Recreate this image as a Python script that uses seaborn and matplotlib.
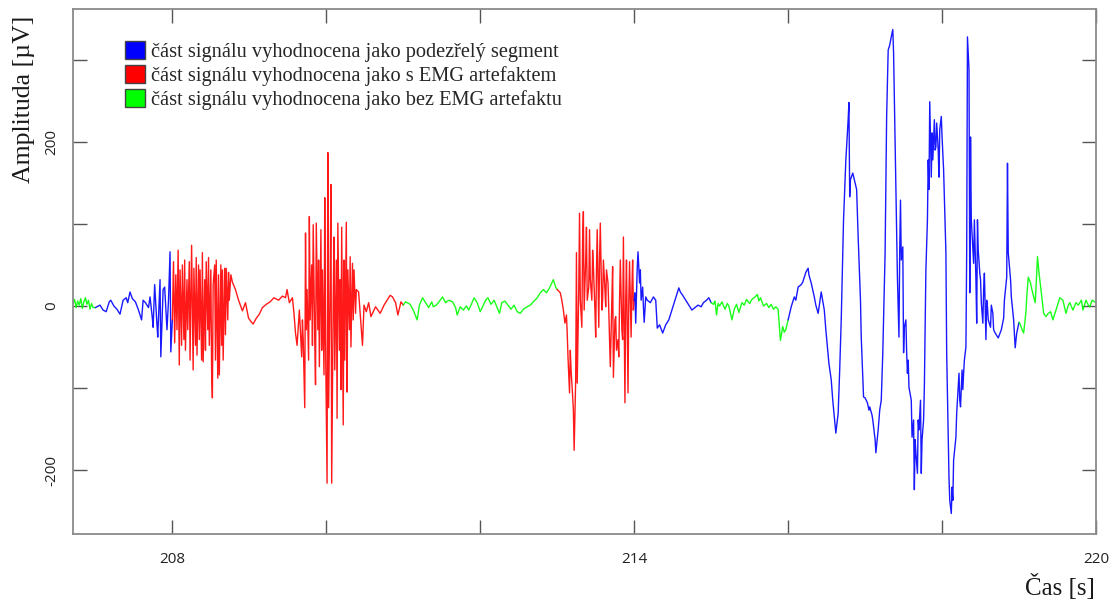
import matplotlib
matplotlib.use("Agg")
import matplotlib.pyplot as plt
from matplotlib.patches import Patch
from matplotlib.ticker import FixedLocator, FuncFormatter
import pandas as pd
import seaborn as sns

# EEG trace, split into classified one-second windows: (time [s], amplitude [uV])
ok_1 = [(206.713, 3), (206.73, 8), (206.75, -2), (206.77, 6), (206.79, 1), (206.81, 9),
        (206.83, -3), (206.85, 5), (206.87, 10), (206.89, 2), (206.91, 7), (206.93, -4),
        (206.95, 3), (206.97, -2), (207.00, -2)]

suspect_1 = [(207.00, -2), (207.06, 1), (207.10, -5), (207.14, -7), (207.18, 5), (207.20, 7),
             (207.24, 0), (207.28, -4), (207.32, -10), (207.36, 7), (207.40, 10), (207.42, 4),
             (207.45, 17), (207.48, 9), (207.52, 5), (207.56, -5), (207.60, -17), (207.62, 7),
             (207.65, 4), (207.69, -2), (207.71, 11), (207.74, -15), (207.75, -26), (207.77, 26),
             (207.80, -23), (207.81, -38), (207.84, 32), (207.85, -62), (207.88, 20), (207.90, 23),
             (207.93, -29), (207.95, 7), (207.97, 66), (207.98, -56), (208.00, -17)]

emg_1 = [(208.00, -17), (208.015, 54), (208.03, -45), (208.045, 38), (208.06, -29), (208.075, 68),
         (208.09, -72), (208.10, 44), (208.12, -48), (208.13, 50), (208.15, -41), (208.16, 56),
         (208.17, -54), (208.19, 32), (208.20, -29), (208.22, 54), (208.23, -66), (208.25, 74),
         (208.27, -78), (208.28, 46), (208.30, -48), (208.31, 59), (208.32, -60), (208.34, 50),
         (208.35, -41), (208.36, 44), (208.38, -66), (208.39, 65), (208.40, -68), (208.42, 32),
         (208.43, -54), (208.44, 54), (208.46, -29), (208.47, 59), (208.48, -48), (208.50, 44),
         (208.51, -78), (208.52, -112), (208.53, 26), (208.55, 50), (208.56, -66), (208.57, 56),
         (208.59, -88), (208.60, 38), (208.61, -84), (208.63, 50), (208.64, -48), (208.65, 44),
         (208.66, -66), (208.68, 46), (208.69, -35), (208.70, 46), (208.72, -17), (208.73, 41),
         (208.74, 7), (208.76, 38), (208.78, 29), (208.82, 20), (208.86, 7), (208.91, -6),
         (208.95, 4), (208.99, -15), (209.03, -20), (209.05, -22), (209.09, -15), (209.13, -10),
         (209.17, -2), (209.22, 2), (209.27, 5), (209.32, 10), (209.38, 7), (209.43, 12),
         (209.47, 10), (209.49, 20), (209.52, 4), (209.56, 10), (209.58, -9), (209.60, -33),
         (209.62, -48), (209.65, -5), (209.68, -62), (209.69, -17), (209.70, -41), (209.72, -124),
         (209.73, 89), (209.74, -29), (209.75, 20), (209.77, -66), (209.78, 109), (209.79, -17),
         (209.81, 50), (209.82, -48), (209.83, 99), (209.85, -41), (209.86, -96), (209.87, 101),
         (209.89, -29), (209.90, 56), (209.91, -74), (209.93, 93), (209.94, -54), (209.95, 44),
         (209.97, -84), (209.98, 132), (209.99, -41), (210.01, -216), (210.02, 187), (210.03, -124),
         (210.05, 32), (210.06, 148), (210.07, -216), (210.09, 7), (210.10, 84), (210.11, -78),
         (210.13, 56), (210.14, -137), (210.15, 101), (210.17, -54), (210.18, 32), (210.19, -102),
         (210.20, 96), (210.22, -145), (210.23, 56), (210.24, -66), (210.26, 102), (210.27, -105),
         (210.28, 44), (210.30, -29), (210.31, 60), (210.32, -50), (210.34, 52), (210.35, -17),
         (210.36, 44), (210.38, -9), (210.39, 20), (210.42, 17), (210.44, -9), (210.47, -48),
         (210.49, 1), (210.52, -7), (210.55, 4), (210.58, -13), (210.64, -1), (210.67, -5),
         (210.70, -9), (210.75, 1), (210.79, 7), (210.83, 13), (210.86, 11), (210.90, 4),
         (210.93, -11), (210.97, 5), (211.00, 1)]

ok_2 = [(211.00, 1), (211.03, 5), (211.05, 4), (211.09, 2), (211.13, -5), (211.18, -17),
        (211.21, 1), (211.25, 10), (211.29, 4), (211.33, -2), (211.37, 5), (211.39, -1),
        (211.43, 1), (211.48, 7), (211.51, 11), (211.55, 4), (211.59, 7), (211.64, 5),
        (211.68, -2), (211.70, -11), (211.74, -1), (211.78, -5), (211.82, 0), (211.85, -5),
        (211.88, 1), (211.92, 10), (211.96, 4), (212.00, -7), (212.04, 1), (212.07, 7),
        (212.10, 10), (212.14, 2), (212.18, 7), (212.22, -2), (212.25, -9), (212.28, 4),
        (212.32, 6), (212.36, 1), (212.40, -4), (212.44, 1), (212.48, -7), (212.52, -9),
        (212.56, -4), (212.61, -1), (212.65, 1), (212.69, 5), (212.74, 10), (212.78, 16),
        (212.82, 20), (212.86, 16), (212.90, 22), (212.92, 26), (212.95, 32), (212.98, 23),
        (213.00, 20)]

emg_2 = [(213.00, 20), (213.04, 16), (213.06, 7), (213.08, -5), (213.10, -21), (213.12, -11),
         (213.13, -33), (213.14, -62), (213.16, -106), (213.17, -54), (213.18, -78), (213.20, -109),
         (213.21, -127), (213.22, -176), (213.24, -90), (213.25, 65), (213.26, -94), (213.28, 20),
         (213.29, 113), (213.30, 7), (213.32, -26), (213.33, 80), (213.34, 115), (213.35, -5),
         (213.37, 56), (213.38, 96), (213.39, 7), (213.41, 23), (213.42, 93), (213.43, 32),
         (213.45, 7), (213.46, 68), (213.47, 48), (213.49, -5), (213.50, -38), (213.51, 44),
         (213.52, 93), (213.54, -26), (213.55, 56), (213.56, 101), (213.58, -5), (213.59, 7),
         (213.60, 56), (213.62, 20), (213.63, -1), (213.64, 44), (213.66, 28), (213.67, -5),
         (213.68, -41), (213.69, -74), (213.71, 7), (213.72, 48), (213.73, -87), (213.75, -17),
         (213.76, -13), (213.77, -54), (213.79, -41), (213.80, -62), (213.81, 7), (213.82, 56),
         (213.84, -29), (213.85, -41), (213.86, 84), (213.88, -118), (213.89, 7), (213.90, 56),
         (213.92, -106), (213.93, 7), (213.94, 54), (213.96, -38), (213.97, 20), (213.98, 56),
         (213.99, -5), (214.00, 7)]

suspect_2 = [(214.00, 7), (214.01, 16), (214.02, -21), (214.04, 48), (214.05, 66), (214.07, 28),
             (214.08, 44), (214.09, 7), (214.11, 23), (214.12, -1), (214.13, -20), (214.15, 11),
             (214.17, 7), (214.21, 4), (214.25, 11), (214.28, 7), (214.30, -27), (214.33, -23),
             (214.37, -33), (214.41, -23), (214.45, -17), (214.49, -5), (214.53, 7), (214.58, 22),
             (214.60, 17), (214.63, 13), (214.67, 7), (214.71, 1), (214.75, -5), (214.79, -2),
             (214.83, 1), (214.87, -1), (214.90, 4), (214.94, 7), (214.97, 10), (215.00, 4)]

ok_3 = [(215.00, 4), (215.03, 2), (215.05, 6), (215.07, -11), (215.09, 3), (215.11, 0),
        (215.14, 5), (215.18, -4), (215.21, 3), (215.23, 0), (215.27, -17), (215.30, -4),
        (215.33, 2), (215.36, -8), (215.40, 4), (215.43, 1), (215.46, 8), (215.50, 3),
        (215.53, 8), (215.57, 11), (215.60, 14), (215.62, 6), (215.64, 10), (215.68, 0),
        (215.72, 3), (215.75, -2), (215.78, 2), (215.81, -4), (215.84, -1), (215.87, -4),
        (215.90, -42), (215.93, -25), (215.95, -32), (215.97, -29), (216.00, -17)]

suspect_3 = [(216.00, -17), (216.04, -1), (216.08, 11), (216.10, 7), (216.13, 23), (216.17, 26),
             (216.19, 29), (216.23, 41), (216.26, 46), (216.27, 38), (216.30, 28), (216.34, 11),
             (216.36, 1), (216.39, -9), (216.43, 17), (216.47, -5), (216.49, -29), (216.53, -70),
             (216.56, -90), (216.58, -115), (216.62, -155), (216.65, -131), (216.67, -78),
             (216.69, -17), (216.71, 68), (216.72, 105), (216.75, 178), (216.78, 227), (216.79, 248),
             (216.80, 133), (216.81, 154), (216.84, 162), (216.86, 154), (216.89, 142), (216.91, 84),
             (216.94, 7), (216.95, -38), (216.98, -111), (217.00, -112), (217.03, -118),
             (217.05, -127), (217.06, -123), (217.09, -133), (217.10, -139), (217.13, -163),
             (217.14, -179), (217.17, -151), (217.19, -127), (217.21, -115), (217.23, -57),
             (217.26, 65), (217.28, 231), (217.30, 312), (217.32, 318), (217.34, 328), (217.36, 337),
             (217.37, 309), (217.40, 145), (217.41, 96), (217.42, 35), (217.44, -38), (217.45, 68),
             (217.46, 129), (217.47, 56), (217.49, 72), (217.50, -57), (217.51, -26), (217.53, -17),
             (217.54, -57), (217.55, -82), (217.56, -66), (217.57, -99), (217.60, -115),
             (217.61, -160), (217.63, -139), (217.64, -224), (217.65, -163), (217.66, -179),
             (217.68, -204), (217.69, -139), (217.70, -151), (217.72, -115), (217.73, -204),
             (217.74, -163), (217.76, -139), (217.77, -99), (217.78, -29), (217.79, 44),
             (217.81, 105), (217.82, 178), (217.83, 142), (217.84, 249), (217.86, 157), (217.87, 211),
             (217.88, 178), (217.90, 227), (217.91, 190), (217.92, 194), (217.93, 223), (217.95, 190),
             (217.96, 157), (217.97, 215), (217.99, 231), (218.00, 206), (218.02, 166), (218.05, 65),
             (218.06, -57), (218.09, -209), (218.10, -237), (218.12, -253), (218.13, -221),
             (218.14, -237), (218.15, -188), (218.18, -160), (218.19, -131), (218.22, -82),
             (218.23, -115), (218.24, -123), (218.26, -78), (218.27, -102), (218.28, -82),
             (218.29, -66), (218.31, -50), (218.32, 65), (218.33, 328), (218.35, 288), (218.36, 16),
             (218.37, 206), (218.38, 105), (218.40, 68), (218.41, 52), (218.42, 105), (218.44, 32),
             (218.45, -21), (218.46, 105), (218.47, 68), (218.49, 40), (218.50, 32), (218.51, 4),
             (218.53, -21), (218.54, 20), (218.55, 40), (218.57, -41), (218.58, 7), (218.59, -1),
             (218.60, -17), (218.63, -26), (218.64, 1), (218.66, -9), (218.67, -29), (218.69, -33),
             (218.73, -39), (218.77, -29), (218.80, -15), (218.81, 7), (218.84, 35), (218.85, 174),
             (218.86, 65), (218.88, 44), (218.89, 32), (218.90, 11), (218.93, -17), (218.95, -51),
             (218.97, -33), (219.00, -20)]

ok_4 = [(219.00, -20), (219.01, -21), (219.04, -29), (219.06, -33), (219.09, -7), (219.10, 11),
        (219.12, 35), (219.15, 28), (219.16, 23), (219.19, 11), (219.21, 4), (219.23, 40),
        (219.24, 60), (219.26, 40), (219.29, 16), (219.32, -9), (219.35, -13), (219.38, -9),
        (219.41, -7), (219.44, -17), (219.48, -5), (219.51, 4), (219.53, 10), (219.57, 7),
        (219.61, -9), (219.64, 1), (219.66, 4), (219.70, -5), (219.74, 4), (219.77, 1),
        (219.81, 7), (219.83, -5), (219.87, 7), (219.90, 1), (219.92, -1), (219.95, 7),
        (220.00, 4)]

segment_order = ["ok_1", "suspect_1", "emg_1", "ok_2", "emg_2", "suspect_2", "ok_3", "suspect_3", "ok_4"]
segment_data = [ok_1, suspect_1, emg_1, ok_2, emg_2, suspect_2, ok_3, suspect_3, ok_4]

class_labels = {
    "suspect": "část signálu vyhodnocena jako podezřelý segment",
    "emg": "část signálu vyhodnocena jako s EMG artefaktem",
    "ok": "část signálu vyhodnocena jako bez EMG artefaktu",
}
class_colors = {"suspect": "#0000ff", "emg": "#ff0000", "ok": "#00ff00"}

x_ticks = [208, 210, 212, 214, 216, 218, 220]
x_labelled = [208, 214, 220]
y_ticks = [-200, -100, 0, 100, 200, 300]
y_labelled = [-200, 0, 200]

sns.set_style("white")
plt.rcParams["font.family"] = ["Open Sans", "DejaVu Sans"]

W, H = 1116, 601
fig = plt.figure(figsize=(W / 100, H / 100), dpi=100)
ax = fig.add_axes([73.3 / W, (H - 534) / H, (1096 - 73.3) / W, (534 - 9) / H])

for name, pts in zip(segment_order, segment_data):
    cls = name.split("_")[0]
    df = pd.DataFrame(pts, columns=["t", "v"])
    sns.lineplot(data=df, x="t", y="v", color=class_colors[cls], lw=1.0, alpha=0.9,
                 estimator=None, sort=False, ax=ax, legend=False)

ax.set_xlim(206.713, 220)
ax.set_ylim(-278, 362)
ax.set_xlabel("")
ax.set_ylabel("")

ax.xaxis.set_major_locator(FixedLocator(x_ticks))
ax.yaxis.set_major_locator(FixedLocator(y_ticks))
ax.xaxis.set_major_formatter(FuncFormatter(lambda v, p: f"{v:g}" if round(v) in x_labelled else ""))
ax.yaxis.set_major_formatter(FuncFormatter(lambda v, p: f"{v:g}" if round(v) in y_labelled else ""))

ax.tick_params(direction="in", length=10, width=1.0, color="#555555", labelcolor="#222222",
               labelsize=11, top=True, right=True, bottom=True, left=True)
ax.tick_params(axis="x", pad=13)
ax.tick_params(axis="y", pad=10, labelrotation=90)
for lbl in ax.get_yticklabels():
    lbl.set_va("center")

for s in ax.spines.values():
    s.set_color("#8a8a8a")
    s.set_linewidth(1.3)
    s.set_visible(True)

serif = ["Liberation Serif", "DejaVu Serif"]
fig.text(24 / W, 1 - 99 / H, "Amplituda [µV]", rotation=90, ha="center", va="center",
         family=serif, fontsize=18.5, color="#1a1a1a")
fig.text(1095 / W, 1 - 587 / H, "Čas [s]", ha="right", va="center",
         family=serif, fontsize=18, color="#1a1a1a")

handles = [Patch(facecolor=class_colors[c], edgecolor="#444444", linewidth=1.0, label=class_labels[c])
           for c in ["suspect", "emg", "ok"]]
fig.legend(handles=handles, loc="upper left", bbox_to_anchor=(125 / W, 1 - 41 / H),
           frameon=False, prop={"family": serif, "size": 14.7}, handlelength=0.99,
           handleheight=0.99, labelspacing=0.14, handletextpad=0.3, borderpad=0, borderaxespad=0)

fig.savefig("out.png", dpi=100)
